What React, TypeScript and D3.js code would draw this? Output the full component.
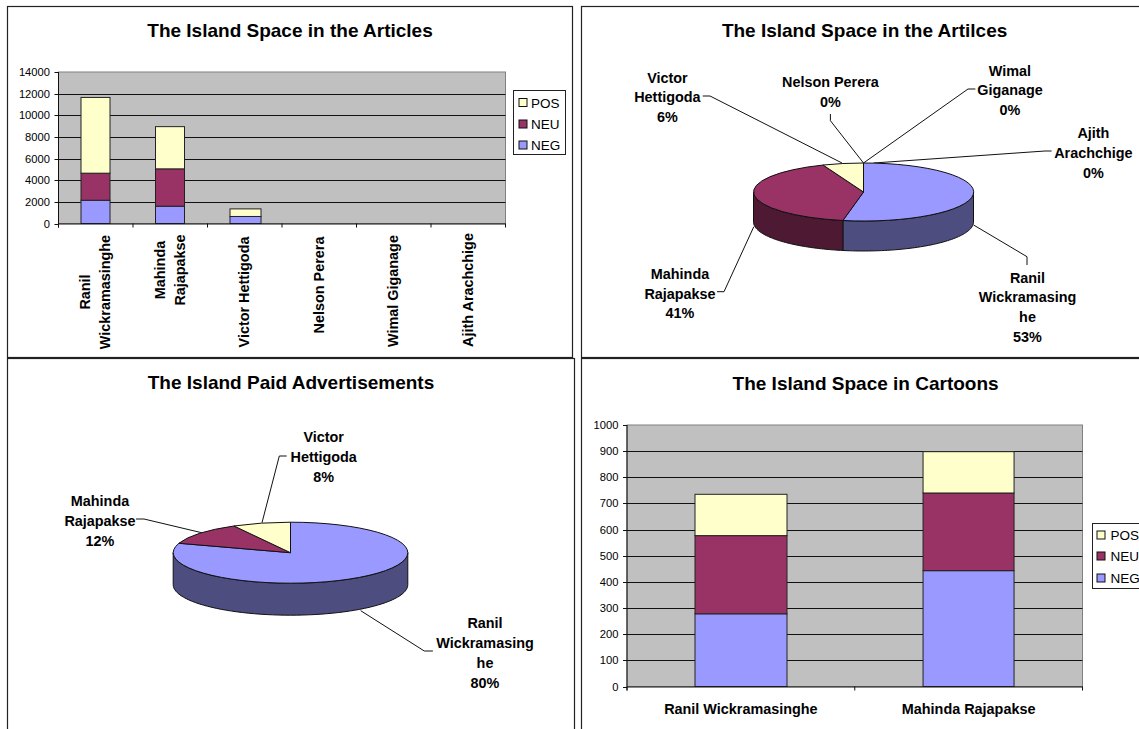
import React from "react";
import * as d3 from "d3";

const FONT = "'Liberation Sans', Arial, sans-serif";
const COLORS: Record<string, string> = { NEG: "#9999FF", NEU: "#993366", POS: "#FFFFCC" };
const DARK: Record<string, string> = { NEG: "#4D4D80", NEU: "#4D1933", POS: "#808066" };
const seriesKeys = ["NEG", "NEU", "POS"];
const legendOrder = ["POS", "NEU", "NEG"];

// Articles data
const articleCategories = ["Ranil Wickramasinghe", "Mahinda Rajapakse", "Victor Hettigoda", "Nelson Perera", "Wimal Giganage", "Ajith Arachchige"];
const articleNeg = [2150, 1600, 650, 0, 0, 0];
const articleNeu = [2500, 3450, 0, 0, 0, 0];
const articlePos = [7000, 3900, 700, 0, 0, 0];
const articleTicks = [0, 2000, 4000, 6000, 8000, 10000, 12000, 14000];

// Articles pie
const articlePieValues = [53, 41, 6, 0, 0, 0];

// Paid advertisements pie
const adPieValues = [80, 12, 8];

// Cartoons data
const cartoonCategories = ["Ranil Wickramasinghe", "Mahinda Rajapakse"];
const cartoonNeg = [278, 443];
const cartoonNeu = [299, 297];
const cartoonPos = [158, 158];
const cartoonTicks = [0, 100, 200, 300, 400, 500, 600, 700, 800, 900, 1000];

type Box = { x0: number; x1: number; y0: number; y1: number };

function Legend({ x, y, w, h, rows, sw, tx }: { x: number; y: number; w: number; h: number; rows: number[]; sw: number; tx: number }) {
  return (
    <g>
      <rect x={x} y={y} width={w} height={h} fill="#fff" stroke="#222" strokeWidth={1} />
      {legendOrder.map((k, i) => (
        <g key={k}>
          <rect x={sw} y={rows[i] - 4} width={8} height={8} fill={COLORS[k]} stroke="#111" strokeWidth={1} />
          <text x={tx} y={rows[i] + 5} fontSize={13.5} fill="#000">{k}</text>
        </g>
      ))}
    </g>
  );
}

function StackedBars({ box, cats, neg, neu, pos, ticks, barW, barOffset }: { box: Box; cats: string[]; neg: number[]; neu: number[]; pos: number[]; ticks: number[]; barW: number[]; barOffset: number[] }) {
  const x = d3.scaleBand<string>().domain(cats).range([box.x0, box.x1]);
  const y = d3.scaleLinear().domain([ticks[0], ticks[ticks.length - 1]]).range([box.y1, box.y0]);
  const rows = cats.map((c, i) => ({ c, NEG: neg[i], NEU: neu[i], POS: pos[i] }));
  const stacks = d3.stack<any>().keys(seriesKeys)(rows);
  const edges = [...cats.map((c) => x(c) as number), box.x1];
  return (
    <g>
      <rect x={box.x0} y={box.y0} width={box.x1 - box.x0} height={box.y1 - box.y0} fill="#C0C0C0" stroke="#808080" strokeWidth={1} />
      {ticks.slice(1, -1).map((t) => (
        <line key={t} x1={box.x0} x2={box.x1} y1={Math.round(y(t)) + 0.5} y2={Math.round(y(t)) + 0.5} stroke="#111" strokeWidth={1} />
      ))}
      {stacks.map((s) => s.map((d, i) => (
        d[1] - d[0] > 0 ? (
          <rect key={s.key + i} x={(x(cats[i]) as number) + barOffset[i]} width={barW[i]} y={y(d[1])} height={y(d[0]) - y(d[1])} fill={COLORS[s.key]} stroke="#222" strokeWidth={1} />
        ) : null
      )))}
      <line x1={box.x0} x2={box.x0} y1={box.y0} y2={box.y1 + 4} stroke="#111" />
      <line x1={box.x0} x2={box.x1} y1={box.y1 + 0.5} y2={box.y1 + 0.5} stroke="#111" />
      {ticks.map((t) => (
        <g key={t}>
          <line x1={box.x0 - 4} x2={box.x0} y1={Math.round(y(t)) + 0.5} y2={Math.round(y(t)) + 0.5} stroke="#111" />
          <text x={box.x0 - 8.5} y={y(t) + 4} textAnchor="end" fontSize={11.2} fill="#000">{t}</text>
        </g>
      ))}
      {edges.map((e) => (
        <line key={e} x1={e} x2={e} y1={box.y1} y2={box.y1 + 4} stroke="#111" />
      ))}
    </g>
  );
}

type Leader = [number, number][];
type Lab = { lines: string[]; cx: number; ys: number[]; leader: Leader };

function Pie3D({ cx, cy, rx, ry, depth, values, labels }: { cx: number; cy: number; rx: number; ry: number; depth: number; values: number[]; labels: Lab[] }) {
  const keys = ["NEG", "NEU", "POS"];
  const arcs = d3.pie<number>().sort(null).value((d) => d)(values);
  const arcGen = d3.arc<any>().innerRadius(0).outerRadius(1);
  const pt = (a: number): [number, number] => [rx * Math.sin(a), -ry * Math.cos(a)];
  const line = d3.line();
  const walls = arcs.slice(0, 3).map((a, i) => {
    // the visible wall covers only angles on the front half of the ellipse
    const from = Math.max(a.startAngle, Math.PI / 2);
    const to = Math.min(a.endAngle, (3 * Math.PI) / 2);
    if (to <= from) return null;
    const n = 60;
    const topEdge = d3.range(n + 1).map((j) => pt(from + ((to - from) * j) / n));
    const botEdge = topEdge.slice().reverse().map(([px, py]) => [px, py + depth] as [number, number]);
    return <path key={i} d={(line([...topEdge, ...botEdge]) as string) + "Z"} fill={DARK[keys[i]]} stroke="#111" strokeWidth={1} strokeLinejoin="round" />;
  });
  return (
    <g>
      {labels.map((l, i) => (
        <g key={i}>
          <path d={line(l.leader) as string} fill="none" stroke="#111" strokeWidth={1} />
          {l.lines.map((t, j) => (
            <text key={j} x={l.cx} y={l.ys[j] + 5} textAnchor="middle" fontSize={14.4} fontWeight="bold" fill="#000">{t}</text>
          ))}
        </g>
      ))}
      <g transform={`translate(${cx},${cy})`}>
        {walls}
        {arcs.slice(0, 3).map((a, i) => (
          <path key={i} transform={`scale(${rx},${ry})`} d={arcGen(a) as string} fill={COLORS[keys[i]]} stroke="#111" strokeWidth={1} vectorEffect="non-scaling-stroke" strokeLinejoin="round" />
        ))}
      </g>
    </g>
  );
}

function Title({ x, y, children }: { x: number; y: number; children: string }) {
  return <text x={x} y={y + 6.5} textAnchor="middle" fontSize={19} fontWeight="bold" fill="#000">{children}</text>;
}

export default function App() {
  const pct = (v: number, all: number[]) => `${Math.round((v / d3.sum(all)) * 100)}%`;
  const pie1: Lab[] = [
    { lines: ["Ranil", "Wickramasing", "he", pct(articlePieValues[0], articlePieValues)], cx: 1027.5, ys: [278, 297, 317, 337], leader: [[1027, 265], [1027, 256.7], [973.6, 225]] },
    { lines: ["Mahinda", "Rajapakse", pct(articlePieValues[1], articlePieValues)], cx: 680, ys: [274, 294, 313], leader: [[717, 291.7], [724, 291.7], [753.8, 226.7]] },
    { lines: ["Victor", "Hettigoda", pct(articlePieValues[2], articlePieValues)], cx: 667.4, ys: [78, 97, 117], leader: [[702.7, 96], [710, 96], [842, 163]] },
    { lines: ["Nelson Perera", pct(articlePieValues[3], articlePieValues)], cx: 830.4, ys: [82, 102], leader: [[830.4, 114], [830.4, 120.7], [863.5, 163]] },
    { lines: ["Wimal", "Giganage", pct(articlePieValues[4], articlePieValues)], cx: 1010, ys: [71, 90, 110], leader: [[975.4, 89], [968, 89], [863.5, 163]] },
    { lines: ["Ajith", "Arachchige", pct(articlePieValues[5], articlePieValues)], cx: 1093.4, ys: [133, 153, 173], leader: [[1051.6, 151], [1045, 151], [873.6, 163]] },
  ];
  const pie2: Lab[] = [
    { lines: ["Ranil", "Wickramasing", "he", pct(adPieValues[0], adPieValues)], cx: 485, ys: [623, 643, 663, 683], leader: [[432.9, 651], [424.3, 651], [360.7, 610.7]] },
    { lines: ["Mahinda", "Rajapakse", pct(adPieValues[1], adPieValues)], cx: 100, ys: [501, 521, 541], leader: [[136, 519], [144, 519], [201.6, 532.7]] },
    { lines: ["Victor", "Hettigoda", pct(adPieValues[2], adPieValues)], cx: 323.7, ys: [437, 457, 477], leader: [[286.7, 456], [279.3, 456], [262, 522.7]] },
  ];
  const box1: Box = { x0: 58.5, x1: 505.5, y0: 72, y1: 223.5 };
  const box4: Box = { x0: 627, x1: 1082.5, y0: 425, y1: 686.5 };
  const catX = d3.scaleBand<string>().domain(articleCategories).range([box1.x0, box1.x1]);
  const catLabels: { lines: string[]; cy: number }[] = [
    { lines: ["Ranil", "Wickramasinghe"], cy: 292 },
    { lines: ["Mahinda", "Rajapakse"], cy: 270 },
    { lines: ["Victor Hettigoda"], cy: 292 },
    { lines: ["Nelson Perera"], cy: 285 },
    { lines: ["Wimal Giganage"], cy: 291 },
    { lines: ["Ajith Arachchige"], cy: 290 },
  ];
  const cartoonX = d3.scaleBand<string>().domain(cartoonCategories).range([box4.x0, box4.x1]);
  return (
    <svg width={1139} height={729} viewBox="0 0 1139 729" style={{ position: "absolute", left: 0, top: 0, display: "block", background: "#fff", fontFamily: FONT }}>
      {/* panel frames */}
      <rect x={7.5} y={6.5} width={565} height={351} fill="#fff" stroke="#222" strokeWidth={1.2} />
      <rect x={581.5} y={6.5} width={570} height={351} fill="#fff" stroke="#222" strokeWidth={1.2} />
      <rect x={7.5} y={358.5} width={567} height={390} fill="#fff" stroke="#222" strokeWidth={1.2} />
      <rect x={581.5} y={358.5} width={570} height={390} fill="#fff" stroke="#222" strokeWidth={1.2} />

      <Title x={290} y={30}>The Island Space in the Articles</Title>
      <StackedBars box={box1} cats={articleCategories} neg={articleNeg} neu={articleNeu} pos={articlePos} ticks={articleTicks} barW={[29, 29, 31, 0, 0, 0]} barOffset={[22.5, 22.5, 22.5, 0, 0, 0]} />
      {catLabels.map((c, i) => {
        const mid = (catX(articleCategories[i]) as number) + catX.bandwidth() / 2;
        return c.lines.map((t, j) => {
          const lx = mid + (c.lines.length === 2 ? (j === 0 ? -10 : 10) : 0);
          return (
            <text key={t} transform={`translate(${lx + 4.5},${c.cy}) rotate(-90)`} textAnchor="middle" fontSize={14.4} fontWeight="bold" fill="#000">{t}</text>
          );
        });
      })}
      <Legend x={513.5} y={90.5} w={52} h={64} rows={[102.5, 124, 145]} sw={519} tx={531} />

      <Title x={864.6} y={30}>The Island Space in the Artilces</Title>
      <Pie3D cx={863.5} cy={192} rx={110} ry={29} depth={30} values={articlePieValues} labels={pie1} />

      <Title x={291} y={382.7}>The Island Paid Advertisements</Title>
      <Pie3D cx={290.5} cy={552.7} rx={117.3} ry={30.5} depth={32} values={adPieValues} labels={pie2} />

      <Title x={865.6} y={383}>The Island Space in Cartoons</Title>
      <StackedBars box={box4} cats={cartoonCategories} neg={cartoonNeg} neu={cartoonNeu} pos={cartoonPos} ticks={cartoonTicks} barW={[92, 91]} barOffset={[68, 68.3]} />
      {cartoonCategories.map((c) => (
        <text key={c} x={(cartoonX(c) as number) + cartoonX.bandwidth() / 2} y={714} textAnchor="middle" fontSize={14.4} fontWeight="bold" fill="#000">{c}</text>
      ))}
      <Legend x={1092.5} y={523.5} w={60} h={65} rows={[535, 556, 578]} sw={1097} tx={1110.5} />
    </svg>
  );
}
